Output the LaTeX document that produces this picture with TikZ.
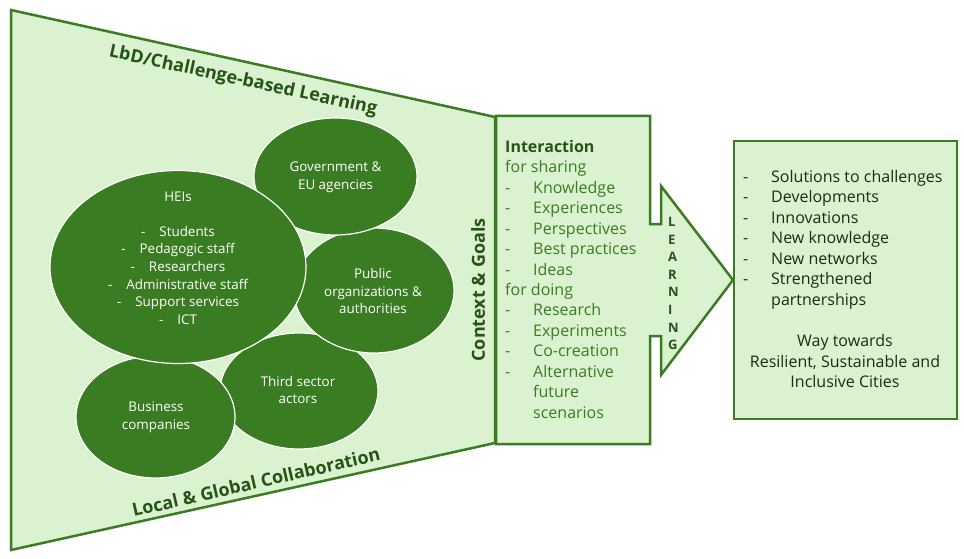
\documentclass[tikz,border=0pt]{standalone}
\usepackage{fontspec}
\setmainfont{Open Sans}
\usepackage{xcolor}
\definecolor{palegreen}{HTML}{DBF2D0}
\definecolor{midgreen}{HTML}{3A7C22}
\definecolor{deepgreen}{HTML}{275317}
\definecolor{inkgreen}{HTML}{14300C}
\tikzset{
panel/.style={fill=palegreen, draw=midgreen, line width=2.5pt, line join=miter},
group/.style={fill=midgreen, draw=white, line width=1.2pt},
grouptext/.style={text=white, align=center, font=\fontsize{13.4}{17.6}\selectfont},
bandtext/.style={text=deepgreen, font=\fontsize{18}{20}\selectfont\bfseries},
}
\newcommand{\itm}{\makebox[28pt][l]{-}}
\newcommand{\itmgap}{\makebox[28pt][l]{}}
\begin{document}
\begin{tikzpicture}[x=1pt,y=-1pt]
\useasboundingbox (0,0) rectangle (964,559);

\draw[panel] (11,10) -- (495,117) -- (495,443) -- (11,550) -- cycle;
\draw[panel] (496,116) -- (650,116) -- (650,224) -- (661,224) -- (661,186) -- (733,280) -- (661,375) -- (661,336) -- (650,336) -- (650,444) -- (496,444) -- cycle;
\draw[panel] (734,141) rectangle (957,419);

% groups, back to front
\draw[group] (299,391) ellipse [x radius=79, y radius=58];
\draw[group] (155.5,417) ellipse [x radius=79.5, y radius=61];
\draw[group] (374,290.5) ellipse [x radius=80, y radius=62.5];
\draw[group] (335.5,176.5) ellipse [x radius=81.5, y radius=58.5];
\draw[group] (178,267) ellipse [x radius=128, y radius=96.5];

\node[grouptext] (gov) at (335.5,177) {Government \&\\EU agencies};
\node[grouptext] (hei) at (178,258) {HEIs\\[17.6pt]-\hspace{14pt}Students\\-\hspace{14pt}Pedagogic staff\\-\hspace{14pt}Researchers\\-\hspace{14pt}Administrative staff\\-\hspace{14pt}Support services\\-\hspace{14pt}ICT};
\node[grouptext] (pub) at (373,291) {Public\\organizations \&\\authorities};
\node[grouptext] (third) at (298,390) {Third sector\\actors};
\node[grouptext] (biz) at (156,417) {Business\\companies};

\node[bandtext, rotate=-12.2] (lbd) at (243,81) {LbD/Challenge-based Learning};
\node[bandtext, rotate=12.9] (local) at (256,482) {Local \& Global Collaboration};
\node[bandtext, rotate=90] (ctx) at (478,290) {Context \& Goals};

\node[text=midgreen, align=left, anchor=north west, inner sep=0pt, font=\fontsize{16}{20.45}\selectfont] (act) at (505,140) {\textcolor{deepgreen}{\bfseries Interaction}\\for sharing\\\itm Knowledge\\\itm Experiences\\\itm Perspectives\\\itm Best practices\\\itm Ideas\\for doing\\\itm Research\\\itm Experiments\\\itm Co-creation\\\itm Alternative\\\itmgap future\\\itmgap scenarios};

\node[text=deepgreen, align=left, anchor=north west, inner sep=0pt, font=\fontsize{13}{17.6}\selectfont\bfseries] (learn) at (668,217) {L\\E\\A\\R\\N\\I\\N\\G};

\node[text=inkgreen, align=left, anchor=north west, inner sep=0pt, font=\fontsize{16}{20.45}\selectfont] (out) at (743,170) {\itm Solutions to challenges\\\itm Developments\\\itm Innovations\\\itm New knowledge\\\itm New networks\\\itm Strengthened\\\itmgap partnerships};
\node[text=inkgreen, align=center, font=\fontsize{16}{20.45}\selectfont] (way) at (845,361) {Way towards\\Resilient, Sustainable and\\Inclusive Cities};
\end{tikzpicture}
\end{document}
